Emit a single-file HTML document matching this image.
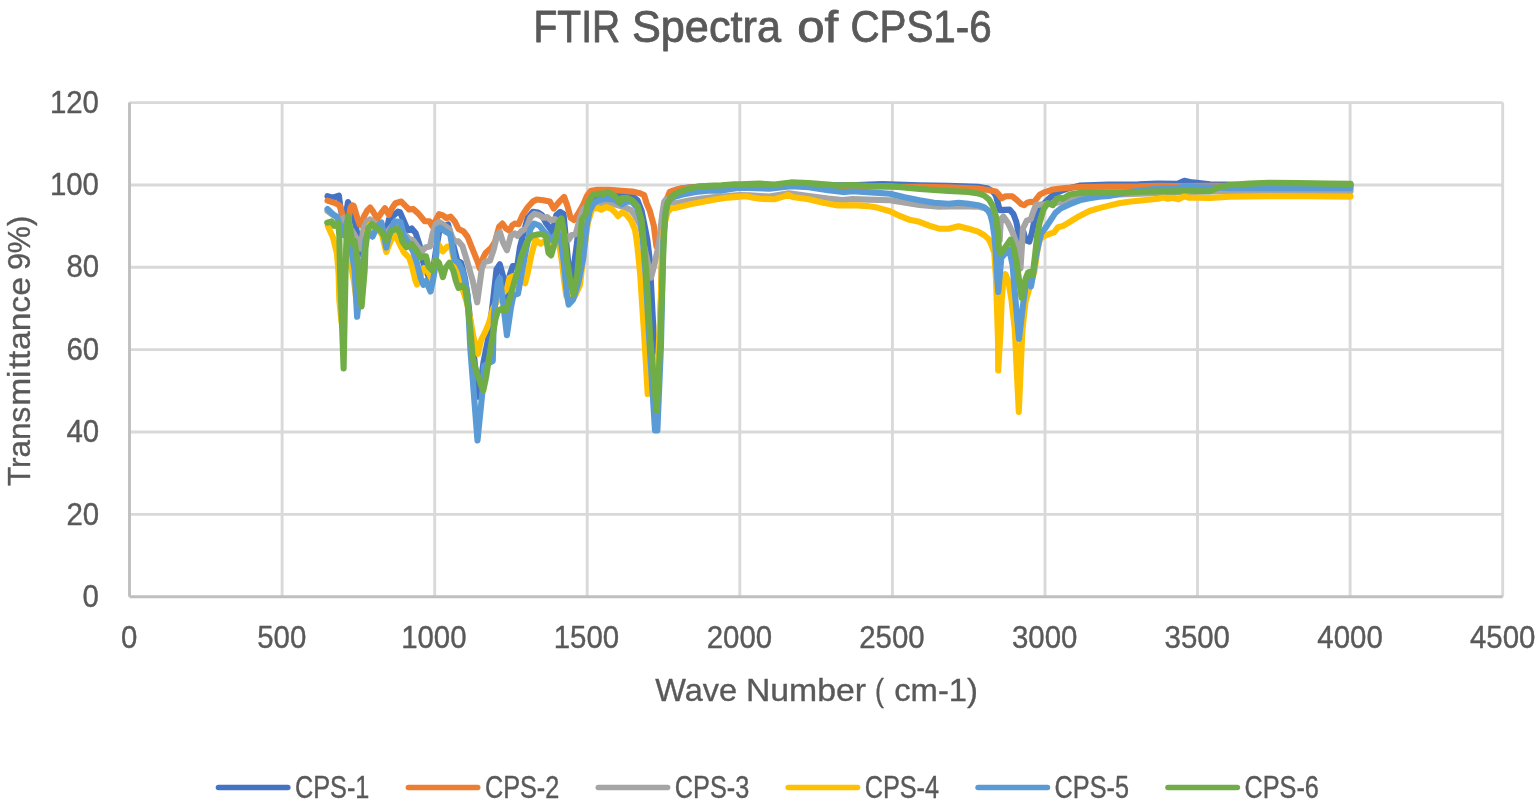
<!DOCTYPE html>
<html lang="en"><head><meta charset="utf-8">
<title>FTIR Spectra of CPS1-6</title>
<style>
html,body{margin:0;padding:0;background:#fff;}
body{width:1536px;height:807px;overflow:hidden;}
svg{display:block;}
text{font-family:"Liberation Sans", "DejaVu Sans", sans-serif;fill:#595959;}
.grid line{stroke:#D9D9D9;stroke-width:2.9;}
.axis line{stroke:#BFBFBF;stroke-width:2.9;}
.series polyline{fill:none;stroke-width:6.1;stroke-linejoin:round;stroke-linecap:round;}
.legend line{stroke-width:5.6;stroke-linecap:round;}
text{stroke:#595959;stroke-linejoin:round;}
.tick{font-size:30.8px;stroke-width:0.4;}
.lab{font-size:31.7px;stroke-width:0.35;}
.ttl{font-size:44.3px;stroke-width:0.8;}
.leg{font-size:30.8px;stroke-width:0.4;}
</style></head><body>
<svg width="1536" height="807" viewBox="0 0 1536 807">
<rect x="0" y="0" width="1536" height="807" fill="#ffffff"/>
<g class="grid">
<line x1="129.5" y1="514.4" x2="1502.7" y2="514.4"/>
<line x1="129.5" y1="432" x2="1502.7" y2="432"/>
<line x1="129.5" y1="349.6" x2="1502.7" y2="349.6"/>
<line x1="129.5" y1="267.3" x2="1502.7" y2="267.3"/>
<line x1="129.5" y1="185" x2="1502.7" y2="185"/>
<line x1="129.5" y1="102.6" x2="1502.7" y2="102.6"/>
<line x1="282.1" y1="102.6" x2="282.1" y2="596.7"/>
<line x1="434.7" y1="102.6" x2="434.7" y2="596.7"/>
<line x1="587.2" y1="102.6" x2="587.2" y2="596.7"/>
<line x1="739.8" y1="102.6" x2="739.8" y2="596.7"/>
<line x1="892.4" y1="102.6" x2="892.4" y2="596.7"/>
<line x1="1045" y1="102.6" x2="1045" y2="596.7"/>
<line x1="1197.5" y1="102.6" x2="1197.5" y2="596.7"/>
<line x1="1350.1" y1="102.6" x2="1350.1" y2="596.7"/>
<line x1="1502.7" y1="102.6" x2="1502.7" y2="596.7"/>
</g>
<g class="axis">
<line x1="129.5" y1="102.6" x2="129.5" y2="596.7"/>
<line x1="129.5" y1="596.7" x2="1502.7" y2="596.7"/>
</g>
<g class="series">
<polyline stroke="#4472C4" points="327.5,196.2 332.9,197.6 338.9,195.6 340.5,208 343,220 345.5,218 346.3,212.5 348,202 350.5,207 353.7,216 356.7,230.8 359,244 361.2,254 363.5,243 370,224 381,223 385,240 388.9,219.4 398,211.6 400,212.1 403.9,221.2 407.8,230.3 411.7,228.4 415.6,232.9 419.5,244.6 423.4,262.8 427.3,273.2 431,284 436,250 440,227 448.1,224.5 452,240 457.2,260.2 461.1,262.8 465,278.4 468,300 478.4,396.8 483.7,361 488.9,335 492.8,302.5 496.5,269.5 499.8,264.3 503,276 505.6,289 507.5,298 509.5,276 512.8,266 517.3,265.6 519.9,247.6 523.8,232 527.7,217.7 532.9,211.9 538.1,212.5 542,215.1 545.9,222.9 549.8,228.1 552.4,232 556.3,215.1 560.2,211.9 563.5,213.8 566,240 570.5,285 574,265 576.5,247 579,225 582,208 588,200 595,196.5 607,195 618.1,194.7 628.5,195.4 634,197.5 637.5,200.3 641.6,210.8 644.6,225.6 647.4,240 649.8,260 654.2,345 656.7,400 660,340 662.5,240 664.5,212 667,199 671,193 676,190 684,188 700,186.5 740,185.5 800,185.3 850,185.3 882,184 890,184.4 919.4,185.4 948.8,185.9 978.1,186.8 987.9,188.5 992.8,191.4 995.8,195.4 997.7,202.2 999.7,210.1 1009.5,209.6 1013.4,214 1016.3,221.8 1018.3,231.6 1020.3,244 1023.5,232 1025.5,240.2 1029.4,241.5 1032,232.4 1034.6,219.4 1037.2,211.6 1042.4,205.1 1047.6,199.9 1052.8,195.4 1058,192.1 1068,188.5 1079.6,185.6 1109,184.6 1138.4,184.4 1157.9,183.6 1177.5,183.9 1184.4,180.8 1192.2,182.4 1210,184.4 1240,184.8 1350.6,185"/>
<polyline stroke="#ED7D31" points="327.5,200.6 333,202.3 338,204.5 340.3,206.2 342.2,214 344,221 346.5,224 349,216 350.5,207.5 352.3,205.3 353.6,205.6 355.3,211 357.6,219 359.8,224.8 361,225.3 363.7,217 367.1,210.6 370.1,207.5 373.3,211.9 377.2,219 381.1,213.2 385,208.2 388.9,214.9 392.2,208 395.4,203.2 401.3,201.5 405.2,205.6 409.1,209.5 413,208.9 418.2,213.4 424.7,221.2 429.3,221.2 432.5,226.4 439,214.1 442.9,215.4 446.2,218 450.7,216.7 454.6,221.2 458.5,229 463.7,231.6 467.6,236.8 472.8,249.8 478,262.8 479.7,268.5 483.2,257.6 485.8,252.7 491,248.1 494.9,242 499.1,226.8 502.4,223.6 505.6,228.1 509.5,230.7 512.1,225.5 514.7,223.6 518.6,224.2 522.5,215.1 527.7,207.3 532.9,201.5 536.8,199.5 543.3,200.2 549.8,201.5 553.7,208.6 558.9,202.1 564.1,196.9 567.4,206 570.6,217.7 573.9,220.1 577.8,214.2 583,205.1 586.9,196 590.8,190.8 596,189.9 609,189.9 622,190.8 632.4,191.6 638.9,192.9 644.1,195 646.5,203 649.8,210.8 653.8,225.6 655.6,240 656.4,246.5 661.5,232 665,212 667.5,197.5 669.7,191.9 673.7,190.4 680,188.6 690,187.5 700,186.8 740,185.6 800,185 842.8,186.5 890,186.7 919.4,186.7 948.8,187.3 978.1,188.5 987.9,190 995.8,191.4 998.7,194.4 1001.7,198.3 1005.6,196.3 1012.4,196.3 1017.3,200.3 1021.2,204.2 1024.2,205.2 1027.1,202.7 1031,201.7 1034,202.2 1036.9,198.3 1040,194.4 1045,192.1 1052.8,189.5 1064.5,188 1079.6,187.1 1109,186.5 1138.4,186.4 1157.9,185.9 1177.5,186.1 1210,185.9 1350.6,186"/>
<polyline stroke="#A5A5A5" points="327.5,211 333,215 337,217 340.5,221 343.7,217.8 347,222 351,229 354.5,234.8 356.7,239 358.4,244.5 360.2,248.6 361.9,238.6 363.6,228.2 366.5,222 369.9,219.3 373.5,222 378,226 385,235 392,226 398,226 404,234 409.1,238.8 413,240.1 418.2,247.2 422.1,251.1 426,247.2 429.9,246.6 432.5,234.2 435.8,223.8 439,221.9 444.2,225.1 449.4,229 452,236.8 454.6,241.4 458.5,241.4 462.4,245.9 467.6,262.8 472.8,281 477.2,302.3 481.9,268 484.5,262.2 490,260.5 493.9,248.9 497.2,234.6 499.8,232 503,242.4 506.9,250.2 510.8,235.9 514.7,233.3 517.3,235.9 521.2,231.4 526.4,228.1 530.3,217.7 534.2,213.8 539.4,215.1 543.3,217.7 547.2,217.1 551.1,220.3 555,219 560,222 564,234 568.7,239.6 571.7,235 575.7,234.2 578.2,224.8 580.6,215.8 583.6,208.6 590,205 597.3,203.8 606.4,201.9 612.9,203.8 625.9,207.7 631.1,210.3 635,215.5 640,225 645,250 651,277.7 655,262 657.5,250 659.3,240 661,225 662.5,212 664.2,201.8 666,199.5 670,202.5 676,203.3 689,200.6 702,198.6 715,197 728,196 739.7,195 749.8,195.4 769.4,196.6 789,193.2 808.6,196.1 828.1,198.6 842.8,200.1 852.6,199.1 867.3,199.6 890,200.2 919.4,205 939,206.7 958.6,206.1 978.1,206.6 985,208.3 990,212 994,225 997.5,240 999.7,240 1000.8,219.4 1003.4,216.5 1008,223 1012.5,232.4 1016.4,242.8 1019,261 1020.5,268.5 1021.8,248 1022.9,228.5 1026.8,220.7 1030.7,219.4 1033.3,211.6 1035.9,205.1 1041.1,204.5 1050,204 1058,202.5 1064.5,201.2 1071,199.3 1080,198 1089.4,195.9 1118.8,194.4 1160,193 1210,191.5 1350.6,191.3"/>
<polyline stroke="#FFC000" points="327.8,225.9 333,237.6 336.9,253.2 338.6,274 339.3,300 341.5,322 344.3,290 346,250 347.5,240 349.3,253 351,265 354.5,285 357,305 360.5,290 364.5,250 367,232 370,224.6 374,227 378,230 382,234.5 384.5,245 386.3,252 389,245 392.3,237.5 395,235.5 397.7,240 400,244.6 403.9,252.4 409.1,257.6 411.7,265.4 415.6,281 417,284.5 424.1,268 428,272 432,280 435,262 438.6,244.7 442.8,251.4 447.3,246.5 451,246.5 453.5,258 455.5,266 457.4,273.5 460,283 463.5,292 467,303 470.5,320 473,335 475.6,346 477.9,353.9 481.1,340.2 485,332.4 488.9,323.3 492.8,309 500,296 506.9,289 509.5,278 513.4,275.8 518,277 525.1,283.2 527.7,273 531.6,254 535.5,239.8 540.7,243.7 544.6,241.1 549,246 553.7,237.2 557.8,240 559.3,244.6 560.8,254.5 562.3,264.4 564,280 566.3,296 570,300 575,296 580,285 584,250 588,222 592.1,209 597.3,207.7 601.2,209.7 606.4,207.1 611.6,209 615.5,212.9 618.1,216.2 622,212.3 625.9,214.2 631.1,220.7 635,229.8 637,242.8 638.9,261 640.2,275 644.5,340 647.7,394 658.5,353 660.8,300 662.2,240 665,222 667.5,212.5 670.8,208.6 676,207.8 689,204.6 702,202.1 715,199.6 728,197.6 740,196.6 746,196.3 752,197.5 759.6,198.8 774.3,199.3 784.1,196.3 788,194.9 793.9,197.3 808.6,199.3 823.3,202.7 837.9,205.4 847.7,205.2 857.5,205.4 867.3,206.1 877.1,207.6 890,211.3 899.8,215.9 909.6,219.8 919.4,221.8 929.2,225.7 939,228.7 948.8,228.7 958.6,226.2 968.4,228.7 978.1,231.6 983.9,235 988.6,239 991.5,245 994.3,253 996,279 997.3,318 998,340 998.2,370.5 1000.6,330 1001.7,300 1003,284 1005.4,274.2 1008.5,282 1011.5,300 1014.8,330 1018.8,411.9 1022.4,330 1025.5,302 1030,286 1034.3,272 1037.5,250 1040,239 1045,235.7 1050.2,233.7 1054.1,232.4 1058,227.2 1063.2,225.9 1069.8,221.8 1079.6,215.9 1089.4,211 1099.2,208.1 1109,205.6 1118.8,203.2 1128.6,201.7 1138.4,200.7 1148.1,199.8 1157.9,198.8 1163.8,197.3 1167.7,198.8 1172.6,197.8 1178.5,199.3 1184.4,196.3 1189.3,197.8 1197.1,197.8 1210,198 1229.6,196.8 1268.8,196.1 1307.9,196.3 1350.6,196.6"/>
<polyline stroke="#5B9BD5" points="327.5,209 333,214.2 336.9,216.8 340,225 343.5,235 347,222 350,235 351.2,248 354.6,270 357.1,316.8 360,290 363,262 365.5,240 368,231 372.5,236.7 377.2,226 381.5,222.5 386.3,247.6 390.2,231.1 394.9,221.3 400.6,222 403.9,235.5 413,251.1 416.9,262.8 420.8,278.4 423.4,284.9 426,281 430.5,291.5 433,280.4 435.1,268 437.7,229 440.3,227.7 445.5,231.6 450.1,234.2 452,244.6 454.6,260.2 458.5,262.8 462.4,270.6 465,281 467.6,295 470.4,350 477.5,440.4 482.7,389 484,365.6 492.8,361 493.9,315 497.8,282.5 499.8,278 503,302 506.9,335.2 510.8,308.5 513.4,295.5 518,293.6 521.2,276 526,250 530.3,229.4 534.2,223.6 539.4,225.5 543.3,230.7 547.2,234.6 552,240 557,232 560.5,238 562.8,254.5 564,264.4 565.5,280 567,295 568.7,304.6 573.2,299.4 578.4,282.5 583.3,258 586.5,227 589.5,211.6 593.4,203.8 597.3,200.6 606.4,198.6 614,199.5 622,204.5 627,201.5 631.8,201.8 637,207.6 640.8,220.5 642.8,240 645.7,275 649.3,340 655,430.4 657.4,430.4 661,345 663.3,240 665.5,213 668,202 672.1,197.7 682.5,194.5 695.5,191.9 708.5,190.6 721.5,190.6 734.5,188.6 740,187.7 769.4,188.7 790.9,186.3 808.6,187.2 828.1,190.2 842.8,192.1 852.6,191.2 867.3,192.1 890,193.8 904.7,197.3 919.4,200.3 934.1,202.7 948.8,203.7 958.6,202.7 968.4,203.7 978.1,205.2 984,207.1 987.9,210.1 990.5,215 992.5,223 994.3,235 995.6,250 997,275 998.3,292 1001.3,258 1005.5,253 1009.3,250 1012.6,265 1014.6,290 1019,339 1023,305 1026,283 1028.3,276 1031,286.5 1033.5,272 1036,256 1038.5,244 1041.1,233.7 1045,228.5 1050.2,220.7 1055.4,212.9 1060.6,208.5 1069.8,204.2 1079.6,200.3 1089.4,198.3 1099.2,196.8 1109,195.9 1124,193 1138.4,190.8 1157.9,188.8 1177.5,188 1184.4,186.5 1197.1,187 1210,187.2 1229.6,188.3 1350.6,188.3"/>
<polyline stroke="#70AD47" points="327.2,222.7 331.7,221.4 334.3,225.9 338.2,223.3 339.3,235 340,270 343.6,368.4 345.6,270 346.7,230 348,216.5 351.2,235 352.5,242.8 354.5,240.9 357.7,261 358,272 361.6,306.4 364.7,270 365.5,248 368.1,228.5 372,224 377.2,228.5 381.1,231.1 386.3,240.2 391.5,231.1 396.7,228.5 400,232.9 402.6,242 406.5,247.2 411.7,244 416.9,251.1 420.8,257.6 426,256.3 428.6,266.7 432.5,270.6 436.4,260.2 439,262.8 442.9,277.1 445.5,268 449.4,262.8 453.3,270.6 455.9,281 458.5,288 462,285.6 465.3,288.2 468.2,309 470.8,335 472.8,358.4 475.8,369.5 482,387.7 483.3,390.3 486.3,376 488.9,358.4 492.8,335 495.4,319.4 498,310.3 501.9,308.8 505.8,310.6 509.6,299 513.5,285 517.3,272 521.2,256.5 526.4,243 531.6,235.8 536.8,234.6 542,234 545.9,236.5 548.5,252.8 551.1,255.4 555,242.4 558.9,221.6 561.5,218.4 564.1,232 566.7,258 570.6,282.7 573.2,294.2 577.1,276 579.4,248 581.9,219.4 585.6,214.2 588.2,201.8 593.4,194.7 599.9,193.4 602.5,194.1 607.7,192.1 612.9,194.7 616.8,198 619.4,202.5 622,198 627.2,198 632.4,200.6 637.6,206.4 641.5,219.4 643.6,240 646.5,275 650.3,340 656.8,410.9 660.4,340 663.4,250 664.3,232 665.4,214 667.2,204 670.7,198 675,194 680,191.8 686,189.5 695.5,187 708.5,185.8 721.5,185.4 734.5,184.4 740,184.2 759.6,183.6 774.3,184.6 790.9,182.4 808.6,183.1 828.1,184.6 837.9,185.6 852.6,185.1 867.3,185.8 890,186.1 919.4,189 948.8,191 968.4,191.9 978.1,193.4 984,195.4 988.9,199.3 992.8,206.1 995.8,215.9 997.7,228.7 998.9,248 1000.8,253.5 1004.7,248 1010.6,239.6 1013.8,248 1016.4,261 1021.6,297.9 1025.5,279 1028.1,272.5 1029.4,271.9 1032.7,275.1 1035.2,254 1037.2,235 1039.8,222 1043.7,209 1047.6,203.2 1052.8,205.1 1056.7,198.6 1060.6,197.6 1062.9,198.8 1069.8,194.4 1079.6,192.9 1099.2,192.4 1128.6,192.2 1157.9,191.2 1177.5,191.4 1184.4,190 1197.1,191 1210,191.2 1219.8,187 1229.6,185.1 1249.2,183.6 1268.8,182.9 1298.1,183.1 1327.5,183.6 1350.6,183.9"/>
</g>
<g class="tick">
<text x="82.62" y="606.85" textLength="16.36" lengthAdjust="spacingAndGlyphs">0</text>
<text x="66.39" y="524.5" textLength="32.72" lengthAdjust="spacingAndGlyphs">20</text>
<text x="66.39" y="442.15" textLength="32.72" lengthAdjust="spacingAndGlyphs">40</text>
<text x="66.39" y="359.8" textLength="32.72" lengthAdjust="spacingAndGlyphs">60</text>
<text x="66.39" y="277.45" textLength="32.72" lengthAdjust="spacingAndGlyphs">80</text>
<text x="49.91" y="195.1" textLength="49.07" lengthAdjust="spacingAndGlyphs">100</text>
<text x="49.91" y="112.75" textLength="49.07" lengthAdjust="spacingAndGlyphs">120</text>
</g>
<g class="tick">
<text x="120.96" y="648.3" textLength="16.36" lengthAdjust="spacingAndGlyphs">0</text>
<text x="257.19" y="648.3" textLength="49.07" lengthAdjust="spacingAndGlyphs">500</text>
<text x="401.17" y="648.3" textLength="65.43" lengthAdjust="spacingAndGlyphs">1000</text>
<text x="553.75" y="648.3" textLength="65.43" lengthAdjust="spacingAndGlyphs">1500</text>
<text x="706.68" y="648.3" textLength="65.43" lengthAdjust="spacingAndGlyphs">2000</text>
<text x="859.26" y="648.3" textLength="65.43" lengthAdjust="spacingAndGlyphs">2500</text>
<text x="1011.96" y="648.3" textLength="65.43" lengthAdjust="spacingAndGlyphs">3000</text>
<text x="1164.54" y="648.3" textLength="65.43" lengthAdjust="spacingAndGlyphs">3500</text>
<text x="1317.35" y="648.3" textLength="65.43" lengthAdjust="spacingAndGlyphs">4000</text>
<text x="1469.93" y="648.3" textLength="65.43" lengthAdjust="spacingAndGlyphs">4500</text>
</g>
<text class="ttl" y="41.9"><tspan x="533.55" textLength="86.6" lengthAdjust="spacingAndGlyphs">FTIR</tspan> <tspan x="631.89" textLength="149.27" lengthAdjust="spacingAndGlyphs">Spectra</tspan> <tspan x="797.21" textLength="40.98" lengthAdjust="spacingAndGlyphs">of</tspan> <tspan x="850.4" textLength="141.27" lengthAdjust="spacingAndGlyphs">CPS1-6</tspan></text>
<text class="lab" y="701.1"><tspan x="655.22" textLength="81.85" lengthAdjust="spacingAndGlyphs">Wave</tspan> <tspan x="745.96" textLength="120.04" lengthAdjust="spacingAndGlyphs">Number</tspan> <tspan x="874.97" textLength="9.02" lengthAdjust="spacingAndGlyphs">(</tspan> <tspan x="894.23" textLength="83.71" lengthAdjust="spacingAndGlyphs">cm-1)</tspan></text>
<text class="lab" y="0" transform="translate(29.5 0) rotate(-90)"><tspan x="-486.02" textLength="79.19" lengthAdjust="spacingAndGlyphs">Trans</tspan><tspan x="-405.85" textLength="35.35" lengthAdjust="spacingAndGlyphs">mi</tspan><tspan x="-368.78" textLength="17.88" lengthAdjust="spacingAndGlyphs">tt</tspan><tspan x="-350" textLength="72.86" lengthAdjust="spacingAndGlyphs">ance</tspan> <tspan x="-270.12" textLength="54.3" lengthAdjust="spacingAndGlyphs">9%)</tspan></text>
<g class="legend">
<line x1="218.5" y1="787.5" x2="287.8" y2="787.5" stroke="#4472C4"/>
<text class="leg" x="295" y="797.5" textLength="74.4" lengthAdjust="spacingAndGlyphs">CPS-1</text>
<line x1="408.4" y1="787.5" x2="477.7" y2="787.5" stroke="#ED7D31"/>
<text class="leg" x="484.9" y="797.5" textLength="74.4" lengthAdjust="spacingAndGlyphs">CPS-2</text>
<line x1="598.3" y1="787.5" x2="667.6" y2="787.5" stroke="#A5A5A5"/>
<text class="leg" x="674.8" y="797.5" textLength="74.4" lengthAdjust="spacingAndGlyphs">CPS-3</text>
<line x1="788.2" y1="787.5" x2="857.5" y2="787.5" stroke="#FFC000"/>
<text class="leg" x="864.7" y="797.5" textLength="74.4" lengthAdjust="spacingAndGlyphs">CPS-4</text>
<line x1="978.1" y1="787.5" x2="1047.4" y2="787.5" stroke="#5B9BD5"/>
<text class="leg" x="1054.6" y="797.5" textLength="74.4" lengthAdjust="spacingAndGlyphs">CPS-5</text>
<line x1="1168" y1="787.5" x2="1237.3" y2="787.5" stroke="#70AD47"/>
<text class="leg" x="1244.5" y="797.5" textLength="74.4" lengthAdjust="spacingAndGlyphs">CPS-6</text>
</g>
</svg>
</body></html>
